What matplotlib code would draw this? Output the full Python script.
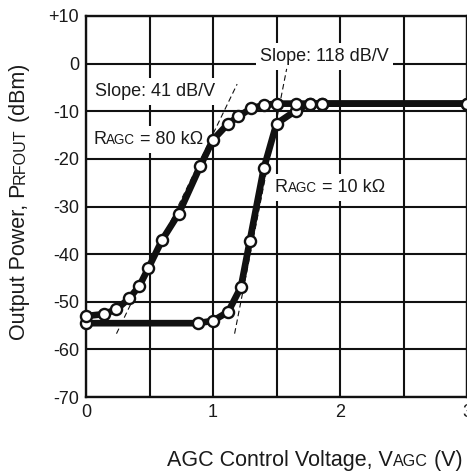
import matplotlib

matplotlib.use("Agg")
import matplotlib.pyplot as plt
import matplotlib.transforms as mtransforms
from matplotlib.patches import Rectangle

plt.rcParams["font.family"] = ["Liberation Sans", "DejaVu Sans"]

# Output power vs. AGC voltage, R_AGC = 80 kOhm
v_80k = [0.0, 0.14, 0.24, 0.34, 0.42, 0.49, 0.60, 0.73, 0.90, 1.00, 1.12,
         1.20, 1.30, 1.40, 1.50, 1.65, 1.76, 1.86, 3.0]
p_80k = [-53.0, -52.6, -51.6, -49.3, -46.7, -43.0, -37.0, -31.5, -21.5, -16.0,
         -12.6, -11.1, -9.4, -8.7, -8.4, -8.4, -8.4, -8.4, -8.4]

# Output power vs. AGC voltage, R_AGC = 10 kOhm
v_10k = [0.0, 0.88, 1.00, 1.12, 1.22, 1.29, 1.40, 1.50, 1.65, 1.76, 1.86, 3.0]
p_10k = [-54.5, -54.5, -54.0, -52.1, -46.9, -37.2, -22.0, -12.6, -9.9, -8.4,
         -8.4, -8.4]

# Dashed slope guides
slope_41_v = [0.24, 1.19]
slope_41_p = [-56.7, -4.3]
slope_118_v = [1.17, 1.58]
slope_118_p = [-56.7, -1.1]

x_ticks = [0, 0.5, 1, 1.5, 2, 2.5, 3]
x_tick_labels = ["0", "", "1", "", "2", "", "3"]
y_ticks = [10, 0, -10, -20, -30, -40, -50, -60, -70]
y_tick_labels = ["+10", "0", "-10", "-20", "-30", "-40", "-50", "-60", "-70"]

SMALL = 0.75  # scale for the small-caps style subscripts


def _rich_text(target, x, y, parts, *, transform, rotation=0, zorder=6):
    """Draw text pieces of mixed size on a shared baseline."""
    fig = target.figure if hasattr(target, "figure") and target.figure else target
    renderer = fig.canvas.get_renderer()
    trans = transform
    texts = []
    for s, size in parts:
        t = target.text(x, y, s, transform=trans, fontsize=size,
                        rotation=rotation, rotation_mode="anchor",
                        ha="left", va="baseline", zorder=zorder,
                        color="#1a1a1a")
        ext = t.get_window_extent(renderer)
        dx, dy = (0, ext.height) if rotation == 90 else (ext.width, 0)
        trans = mtransforms.offset_copy(trans, fig=fig, x=dx, y=dy, units="dots")
        texts.append(t)
    return texts, renderer


def _boxed_label(ax, x, y, parts, pad=(4, 5)):
    """Label in data coords with a white box hiding the grid behind it."""
    texts, renderer = _rich_text(ax, x, y, parts, transform=ax.transData)
    bb = mtransforms.Bbox.union([t.get_window_extent(renderer) for t in texts])
    bb = mtransforms.Bbox.from_extents(bb.x0 - pad[0], bb.y0 - pad[1],
                                       bb.x1 + pad[0], bb.y1 + pad[1])
    bb = bb.transformed(ax.transAxes.inverted())
    ax.add_patch(Rectangle((bb.x0, bb.y0), bb.width, bb.height,
                           transform=ax.transAxes, facecolor="white",
                           edgecolor="none", zorder=2.5))


fig = plt.figure(figsize=(4.67, 4.71), dpi=100)
ax = fig.add_axes([86 / 467, 1 - 397 / 471, 381 / 467, 381 / 471])

ax.set_xlim(0, 3)
ax.set_ylim(-70, 10)
ax.set_xticks(x_ticks, x_tick_labels)
ax.set_yticks(y_ticks, y_tick_labels)
ax.tick_params(length=0, labelsize=13, colors="#1a1a1a")
ax.tick_params(axis="x", pad=5)
ax.tick_params(axis="y", pad=5)
ax.grid(True, color="#111111", linewidth=1.5)
ax.set_axisbelow(True)
for sp in ax.spines.values():
    sp.set_linewidth(1.7)
    sp.set_color("#111111")

# slope guides
ax.plot(slope_41_v, slope_41_p, color="#111111", lw=0.8, dashes=(5, 3), zorder=3)
ax.plot(slope_118_v, slope_118_p, color="#111111", lw=0.8, dashes=(5, 3), zorder=3)

# curves, then markers on top of both lines
ax.plot(v_80k, p_80k, color="#111111", lw=4.8, solid_capstyle="butt",
        solid_joinstyle="round", zorder=4)
ax.plot(v_10k, p_10k, color="#111111", lw=4.8, solid_capstyle="butt",
        solid_joinstyle="round", zorder=4)
marker_kw = dict(ls="none", marker="o", ms=8, mfc="white", mec="#111111",
                 mew=1.7, zorder=5, clip_on=False)
ax.plot(v_10k, p_10k, **marker_kw)
ax.plot(v_80k, p_80k, **marker_kw)

# annotations
fs = 13
_boxed_label(ax, 0.071, -6.8, [("Slope: 41 dB/V", fs)])
_boxed_label(ax, 0.057, -16.9, [("R", fs), ("AGC", fs * SMALL), (" = 80 k\u03a9", fs)])
_boxed_label(ax, 1.37, 0.5, [("Slope: 118 dB/V", fs)])
_boxed_label(ax, 1.488, -27.0, [("R", fs), ("AGC", fs * SMALL), (" = 10 k\u03a9", fs)])

# axis titles
lfs = 15.5
_rich_text(fig, 167 / 467, 1 - 466 / 471,
           [("AGC Control Voltage, V", lfs), ("AGC", lfs * SMALL), (" (V)", lfs)],
           transform=fig.transFigure)
_rich_text(fig, 25 / 467, 1 - 340 / 471,
           [("Output Power, P", lfs), ("RFOUT", lfs * SMALL), (" (dBm)", lfs)],
           transform=fig.transFigure, rotation=90)

fig.savefig("out.png", dpi=100)
